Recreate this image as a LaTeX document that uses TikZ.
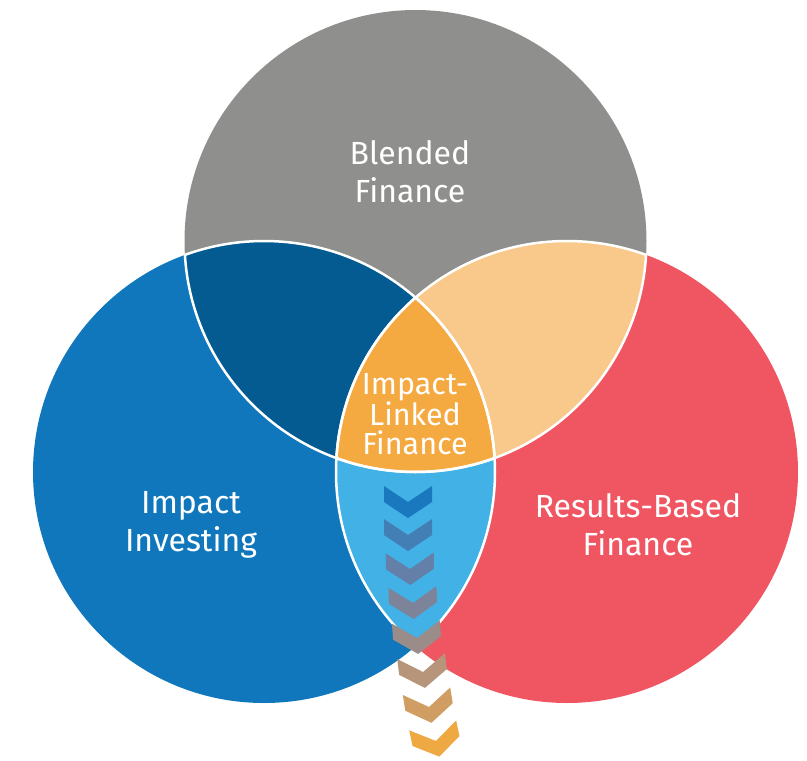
\documentclass[tikz,border=0pt]{standalone}
\usepackage{fontspec}
\setmainfont{Fira Sans}
\usetikzlibrary{positioning}
\definecolor{blendgray}{HTML}{8F8F8D}
\definecolor{investblue}{HTML}{1077BC}
\definecolor{darkblue}{HTML}{045B92}
\definecolor{resultred}{HTML}{F05562}
\definecolor{paleorange}{HTML}{F8C98A}
\definecolor{linkorange}{HTML}{F4AA40}
\definecolor{lensblue}{HTML}{42B1E5}
\tikzset{lbl/.style={text=white,align=center,font=\fontsize{32}{38}\selectfont},
  smalllbl/.style={text=white,align=center,font=\fontsize{30.5}{29}\selectfont},
  seam/.style={white,line width=2.5}}

\begin{document}
\begin{tikzpicture}[x=1pt,y=-1pt]
    \useasboundingbox (0,0) rectangle (807,761);
    \coordinate (T) at (415.5,241);
    \coordinate (L) at (264,472);
    \coordinate (R) at (567,472);
    \def\rad{231}

    % the three sets
    \fill[blendgray] (T) circle[radius=\rad];
    \fill[investblue] (L) circle[radius=\rad];
    \fill[resultred] (R) circle[radius=\rad];

    % overlaps
    \begin{scope}
        \clip (L) circle[radius=\rad];
        \fill[darkblue] (T) circle[radius=\rad];
    \end{scope}
    \begin{scope}
        \clip (R) circle[radius=\rad];
        \fill[paleorange] (T) circle[radius=\rad];
    \end{scope}
    \begin{scope}
        \clip (L) circle[radius=\rad];
        \clip (R) circle[radius=\rad];
        \fill[lensblue] (T) ++(-300,0) rectangle ++(600,700);
        \clip (T) circle[radius=\rad];
        \fill[linkorange] (T) ++(-300,-300) rectangle ++(600,700);
    \end{scope}

    % white seams
    \begin{scope}
        \clip (T) circle[radius=\rad];
        \draw[seam] (L) circle[radius=\rad];
        \draw[seam] (R) circle[radius=\rad];
    \end{scope}
    \begin{scope}
        \clip (L) circle[radius=\rad];
        \draw[seam] (T) circle[radius=\rad];
        \draw[seam] (R) circle[radius=\rad];
    \end{scope}
    \begin{scope}
        \clip (R) circle[radius=\rad];
        \draw[seam] (T) circle[radius=\rad];
        \draw[seam] (L) circle[radius=\rad];
    \end{scope}

    % labels
    \node[lbl] (blended) at (410,172) {Blended\\Finance};
    \node[lbl] (investing) at (191,525) {Impact\\Investing};
    \node[lbl] (results) at (638,525) {Results-Based\\Finance};
    \node[smalllbl] (linked) at (415,414) {Impact-\\Linked\\Finance};

    % chevrons
    \foreach \cx/\cy/\ang/\hue [count=\i] in {408/502/0/1A78BE,408/535/0/437EB5,410/569/1/6580A8,413/603/2/7D8499,
        417/638/4/9A8C89,423/672/7/B6957A,429/707/9/D09D63,436/741/12/EFA943}
    {
        \definecolor{chev\i}{HTML}{\hue}
        \fill[chev\i,shift={(\cx,\cy)},rotate=\ang]
            (-24,-16) -- (0,0) -- (24,-16) -- (24,0) -- (0,16) -- (-24,0) -- cycle;
    }
\end{tikzpicture}
\end{document}
